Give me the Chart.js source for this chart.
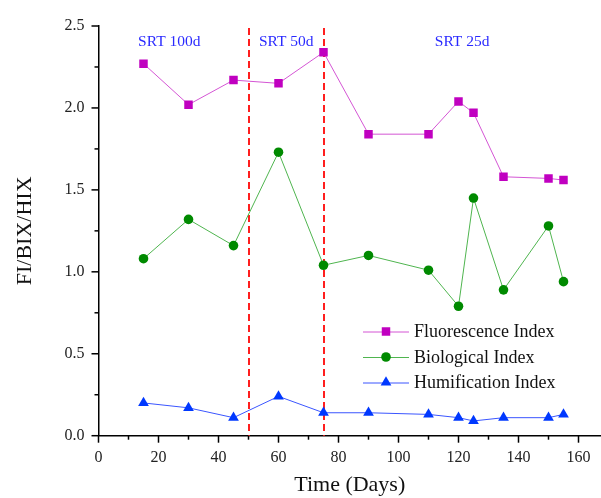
<!DOCTYPE html>
<html>
<head>
<meta charset="utf-8">
<script src="https://cdn.jsdelivr.net/npm/chart.js@4.4.0/dist/chart.umd.min.js"></script>
<style>
  html, body { margin: 0; padding: 0; background: #fff; }
  #wrap { width: 601px; height: 498px; }
</style>
</head>
<body>
<div id="wrap"><canvas id="c" width="601" height="498"></canvas></div>
<script>
const days = [15, 30, 45, 60, 75, 90, 110, 120, 125, 135, 150, 155];
const fluorescence = [2.27, 2.02, 2.17, 2.15, 2.34, 1.84, 1.84, 2.04, 1.97, 1.58, 1.57, 1.56];
const biological = [1.08, 1.32, 1.16, 1.73, 1.04, 1.10, 1.01, 0.79, 1.45, 0.89, 1.28, 0.94];
const humification = [0.20, 0.17, 0.11, 0.24, 0.14, 0.14, 0.13, 0.11, 0.09, 0.11, 0.11, 0.13];
const seriesNames = ['Fluorescence Index', 'Biological Index', 'Humification Index'];
const xTicks = [0, 20, 40, 60, 80, 100, 120, 140, 160];
const xMinorTicks = [10, 30, 50, 70, 90, 110, 130, 150];
const yTicks = [0.0, 0.5, 1.0, 1.5, 2.0, 2.5];
const yMinorTicks = [0.25, 0.75, 1.25, 1.75, 2.25];
const phaseBoundaries = [50, 75];
const phaseLabels = ['SRT 100d', 'SRT 50d', 'SRT 25d'];
const phaseLabelX = [23.6, 62.6, 121.2];
const phaseLabelY = 2.40;

const SERIF = '"Liberation Serif", "DejaVu Serif", serif';

function toXY(vals) { return days.map((d, i) => ({ x: d, y: vals[i] })); }

function drawMarker(ctx, style, x, y, r, color) {
  ctx.save();
  ctx.fillStyle = color;
  ctx.beginPath();
  if (style === 'rect') {
    const s = Math.SQRT1_2 * r;
    ctx.rect(x - s, y - s, 2 * s, 2 * s);
  } else if (style === 'circle') {
    ctx.arc(x, y, r, 0, Math.PI * 2);
  } else if (style === 'triangle') {
    for (let k = 0; k < 3; k++) {
      const a = -Math.PI / 2 + k * 2 * Math.PI / 3;
      const px = x + Math.cos(a) * r, py = y + Math.sin(a) * r;
      if (k === 0) ctx.moveTo(px, py); else ctx.lineTo(px, py);
    }
    ctx.closePath();
  }
  ctx.fill();
  ctx.restore();
}

const decorPlugin = {
  id: 'decor',
  beforeDatasetsDraw(chart) {
    const { ctx, chartArea } = chart;
    const xs = chart.scales.x, ys = chart.scales.y;
    ctx.save();
    ctx.strokeStyle = '#ff1f1f';
    ctx.lineWidth = 2;
    ctx.setLineDash([7, 4]);
    phaseBoundaries.forEach(v => {
      const px = Math.round(xs.getPixelForValue(v));
      ctx.beginPath();
      ctx.moveTo(px, chartArea.top + 2);
      ctx.lineTo(px, chartArea.bottom);
      ctx.stroke();
    });
    ctx.setLineDash([]);
    ctx.fillStyle = '#2a2aff';
    ctx.font = '15.5px ' + SERIF;
    ctx.textAlign = 'center';
    ctx.textBaseline = 'middle';
    phaseLabels.forEach((t, i) => {
      ctx.fillText(t, xs.getPixelForValue(phaseLabelX[i]), ys.getPixelForValue(phaseLabelY));
    });
    ctx.restore();
  },
  afterDraw(chart) {
    const { ctx } = chart;
    const xs = chart.scales.x, ys = chart.scales.y;
    ctx.save();
    ctx.strokeStyle = '#000';
    ctx.lineWidth = 1.5;
    const ay = ys.getPixelForValue(0);
    const ax = xs.getPixelForValue(0);
    xTicks.forEach(v => {
      const p = xs.getPixelForValue(v);
      ctx.beginPath(); ctx.moveTo(p, ay); ctx.lineTo(p, ay + 7); ctx.stroke();
    });
    xMinorTicks.forEach(v => {
      const p = xs.getPixelForValue(v);
      ctx.beginPath(); ctx.moveTo(p, ay); ctx.lineTo(p, ay + 4); ctx.stroke();
    });
    yTicks.forEach(v => {
      const p = ys.getPixelForValue(v);
      ctx.beginPath(); ctx.moveTo(ax, p); ctx.lineTo(ax - 7, p); ctx.stroke();
    });
    yMinorTicks.forEach(v => {
      const p = ys.getPixelForValue(v);
      ctx.beginPath(); ctx.moveTo(ax, p); ctx.lineTo(ax - 4, p); ctx.stroke();
    });
    // legend
    const rows = [331.5, 357, 382.5];
    chart.data.datasets.forEach((ds, i) => {
      const y = rows[i];
      ctx.strokeStyle = ds.borderColor;
      ctx.lineWidth = 1;
      ctx.beginPath(); ctx.moveTo(363, y + 0.5); ctx.lineTo(409, y + 0.5); ctx.stroke();
      drawMarker(ctx, ds.pointStyle, 386, y, ds.pointRadius, ds.pointBackgroundColor);
      ctx.fillStyle = '#111';
      ctx.font = '18px ' + SERIF;
      ctx.textAlign = 'left';
      ctx.textBaseline = 'middle';
      ctx.fillText(ds.label, 414, y + 1);
    });
    ctx.restore();
  }
};

new Chart(document.getElementById('c'), {
  type: 'line',
  data: {
    datasets: [
      { label: seriesNames[0], data: toXY(fluorescence), borderColor: '#d455d4', borderWidth: 1,
        pointStyle: 'rect', pointRadius: 6, pointBackgroundColor: '#c000c0', pointBorderColor: '#c000c0', pointBorderWidth: 0, tension: 0 },
      { label: seriesNames[1], data: toXY(biological), borderColor: '#4fb54f', borderWidth: 1,
        pointStyle: 'circle', pointRadius: 4.8, pointBackgroundColor: '#008a00', pointBorderColor: '#008a00', pointBorderWidth: 0, tension: 0 },
      { label: seriesNames[2], data: toXY(humification), borderColor: '#3a55ff', borderWidth: 1,
        pointStyle: 'triangle', pointRadius: 6.2, pointBackgroundColor: '#0038ff', pointBorderColor: '#0038ff', pointBorderWidth: 0, tension: 0 }
    ]
  },
  options: {
    responsive: false,
    animation: false,
    layout: { autoPadding: false, padding: { left: 0, top: 26, right: 0, bottom: 0 } },
    plugins: { legend: { display: false }, tooltip: { enabled: false } },
    scales: {
      x: {
        type: 'linear', min: 0, max: 167.5,
        afterBuildTicks(s) { s.ticks = xTicks.map(v => ({ value: v })); },
        afterFit(s) { s.height = 62.3; s.paddingLeft = 0; s.paddingRight = 0; },
        grid: { display: false, drawTicks: false },
        border: { display: true, color: '#000', width: 1.5 },
        ticks: { color: '#222', font: { family: SERIF, size: 16 }, padding: 12, maxRotation: 0, autoSkip: false },
        title: { display: true, text: 'Time (Days)', color: '#111', font: { family: SERIF, size: 22 }, padding: { top: 0, bottom: 0 } }
      },
      y: {
        min: 0, max: 2.5,
        afterBuildTicks(s) { s.ticks = yTicks.map(v => ({ value: v })); },
        afterFit(s) { s.width = 98.5; s.paddingTop = 0; s.paddingBottom = 0; },
        grid: { display: false, drawTicks: false },
        border: { display: true, color: '#000', width: 1.5 },
        ticks: { color: '#222', font: { family: SERIF, size: 16 }, padding: 14, callback: v => Number(v).toFixed(1) },
        title: { display: true, text: 'FI/BIX/HIX', color: '#111', font: { family: SERIF, size: 22 }, padding: { top: 12, bottom: 0 } }
      }
    }
  },
  plugins: [decorPlugin]
});
</script>
</body>
</html>
